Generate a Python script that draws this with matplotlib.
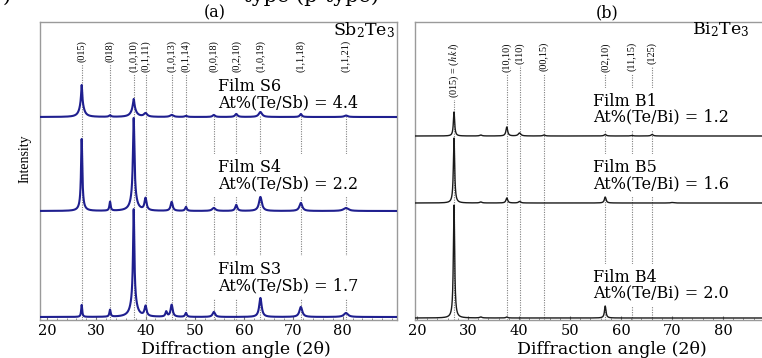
import numpy as np
import matplotlib.pyplot as plt
from matplotlib.ticker import MultipleLocator

# ---- Sb2Te3 panel (a) ----
sb_hkl = ["(015)", "(018)", "(1,0,10)", "(0,1,11)", "(1,0,13)", "(0,1,14)",
          "(0,0,18)", "(0,2,10)", "(1,0,19)", "(1,1,18)", "(1,1,21)"]
sb_pos = [27.05, 32.8, 37.6, 40.0, 45.3, 48.2, 53.85, 58.4, 63.3, 71.5, 80.65]
sb_films = ["Film S6", "Film S4", "Film S3"]
sb_ratio = ["At%(Te/Sb) = 4.4", "At%(Te/Sb) = 2.2", "At%(Te/Sb) = 1.7"]
sb_base = [203, 109, 3]
# (position, height, fwhm)
s6_peaks = [(27.05, 14, 1.0), (27.05, 18, 0.25), (32.8, 1.5, 0.5), (37.6, 8, 1.2),
            (37.6, 10, 0.35), (40.0, 3.5, 0.8), (45.3, 2, 0.8), (48.2, 1, 0.6),
            (53.85, 2, 0.6), (58.4, 3, 0.6), (63.3, 5, 0.8), (71.5, 3, 0.5),
            (80.65, 1.5, 0.8)]
s4_peaks = [(27.05, 6, 1.0), (27.05, 66, 0.3), (32.8, 9, 0.3), (37.6, 15, 1.2),
            (37.6, 78, 0.35), (40.0, 12, 0.5), (45.3, 9, 0.5), (48.2, 4, 0.4),
            (53.85, 3, 0.8), (58.4, 6, 0.5), (63.3, 14, 0.7), (71.5, 8, 0.7),
            (80.65, 3, 1.2)]
s3_peaks = [(27.05, 12, 0.25), (32.8, 7, 0.3), (37.6, 20, 1.2), (37.6, 88, 0.3),
            (40.0, 10, 0.5), (44.2, 5, 0.4), (45.3, 12, 0.5), (48.2, 4, 0.4),
            (53.85, 5, 0.6), (63.3, 19, 0.6), (71.5, 10, 0.7), (80.65, 4, 1.0)]
sb_peaks = [s6_peaks, s4_peaks, s3_peaks]

# ---- Bi2Te3 panel (b) ----
bi_hkl = [r"(015) = ($h\,k\,l$)", "(10,10)", "(110)", "(00,15)", "(02,10)", "(11,15)", "(125)"]
bi_pos = [27.25, 37.6, 40.1, 44.9, 56.9, 62.1, 66.1]
bi_films = ["Film B1", "Film B5", "Film B4"]
bi_ratio = ["At%(Te/Bi) = 1.2", "At%(Te/Bi) = 1.6", "At%(Te/Bi) = 2.0"]
bi_base = [184, 117, 2]
b1_peaks = [(27.25, 24, 0.3), (32.5, 1, 0.5), (37.6, 9, 0.4), (40.1, 3, 0.6),
            (44.9, 1, 0.5), (56.9, 1.5, 0.5), (62.1, 0.5, 0.5), (66.1, 1.5, 0.5)]
b5_peaks = [(27.25, 65, 0.3), (32.5, 1, 0.5), (37.6, 5, 0.4), (40.1, 1.5, 0.5),
            (56.9, 6, 0.4), (70.0, 0.5, 0.6)]
b4_peaks = [(27.25, 113, 0.3), (32.5, 1, 0.5), (37.6, 1, 0.4), (56.9, 12, 0.35)]
bi_peaks = [b1_peaks, b5_peaks, b4_peaks]


def pattern(x, peaks, base):
    y = np.full_like(x, float(base))
    for p, h, w in peaks:
        y += h / (1 + ((x - p) / (w / 2)) ** 2)
    return y


W, H = 762, 358
fig = plt.figure(figsize=(W / 100, H / 100), dpi=100)
ax1 = fig.add_axes([40 / W, 38 / H, 357 / W, 298 / H])
ax2 = fig.add_axes([415 / W, 38 / H, 384 / W, 298 / H])

serif = "DejaVu Serif"
times = "Liberation Serif"


def setup(ax, xlim):
    ax.set_xlim(*xlim)
    ax.set_ylim(0, 298)
    for s in ax.spines.values():
        s.set_color("#9a9a9a")
        s.set_linewidth(1.0)
    ax.set_yticks([])
    ax.set_xticks([20, 30, 40, 50, 60, 70, 80])
    ax.xaxis.set_minor_locator(MultipleLocator(2))
    ax.tick_params(axis="x", which="major", direction="in", length=3, color="#777",
                   labelsize=10.5, pad=3)
    ax.tick_params(axis="x", which="minor", direction="in", length=1.5, color="#777")
    for lab in ax.get_xticklabels():
        lab.set_family(serif)


def draw_panel(ax, xlim, hkl, pos, films, ratios, bases, peaks, color, lw,
               film_x, text_y, label_top):
    setup(ax, xlim)
    x = np.linspace(xlim[0], xlim[1], 4000)
    ax.vlines(pos, 0, label_top, colors="#808080", linestyles=(0, (1, 1.2)),
              linewidth=0.8, zorder=1)
    for p, t in zip(pos, hkl):
        ax.text(p, label_top, t, rotation=90, ha="center", va="top", fontsize=7.3,
                family=times, math_fontfamily="stix", zorder=3,
                bbox=dict(boxstyle="square,pad=0.25", fc="white", ec="none"))
    for f, r, ty in zip(films, ratios, text_y):
        ax.text(film_x, ty, f + "\n" + r, ha="left", va="center", fontsize=11.5,
                family=serif, linespacing=0.92, zorder=3,
                bbox=dict(boxstyle="square,pad=0.3", fc="white", ec="none"))
    for pk, b in zip(peaks, bases):
        ax.plot(x, pattern(x, pk, b), color=color, lw=lw, zorder=4)


draw_panel(ax1, (18.6, 91.0), sb_hkl, sb_pos, sb_films, sb_ratio, sb_base, sb_peaks,
           "#1f1f8f", 1.5, 54.7, [225.5, 144.5, 42.5], 280)
draw_panel(ax2, (19.6, 94.9), bi_hkl, bi_pos, bi_films, bi_ratio, bi_base, bi_peaks,
           "#1a1a1a", 1.0, 54.5, [211, 144.5, 34.5], 278)

ax1.text(90.6, 290, r"Sb$_2$Te$_3$", ha="right", va="center", fontsize=12.5,
         family=serif, math_fontfamily="dejavuserif")
ax2.text(73.9, 290, r"Bi$_2$Te$_3$", ha="left", va="center", fontsize=12.5,
         family=serif, math_fontfamily="dejavuserif")

fig.text(215 / W, 1 - 13 / H, "(a)", ha="center", va="center", fontsize=11.5, family=serif)
fig.text(607 / W, 1 - 13 / H, "(b)", ha="center", va="center", fontsize=11.5, family=serif)
fig.text(25 / W, 1 - 159 / H, "Intensity", rotation=90, ha="center", va="center",
         fontsize=10, family=times)
fig.text(236 / W, 1 - 350 / H, "Diffraction angle (2θ)", ha="center", va="center",
         fontsize=12.5, family=serif)
fig.text(612 / W, 1 - 350 / H, "Diffraction angle (2θ)", ha="center", va="center",
         fontsize=12.5, family=serif)

# caption fragments cut off at the top edge (as in the source image)
fig.text(3 / W, 1 - 2 / H, ")", ha="left", va="baseline", fontsize=15, family=serif)
fig.text(243 / W, 1 - 2 / H, "type (p-type)", ha="left", va="baseline", fontsize=15,
         family=serif)

fig.savefig("out.png", dpi=100)
